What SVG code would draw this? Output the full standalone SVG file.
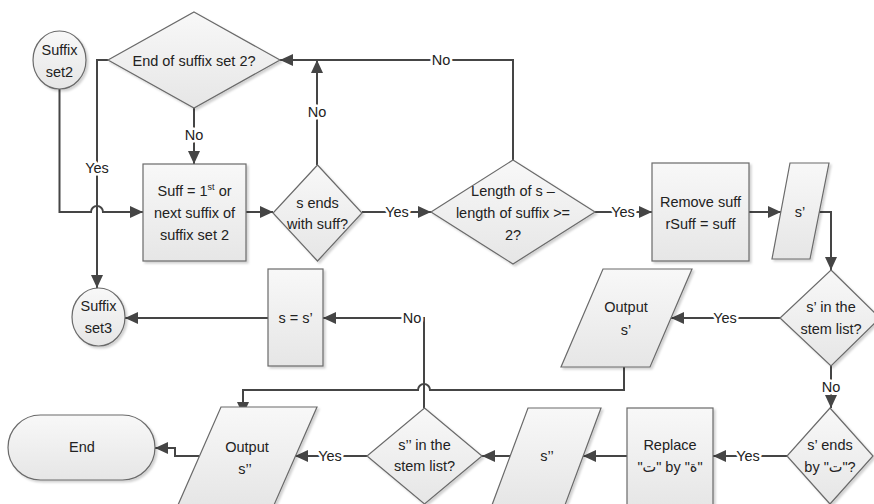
<svg xmlns="http://www.w3.org/2000/svg" width="874" height="504" viewBox="0 0 874 504">
<defs>
<linearGradient id="g" x1="0" y1="0" x2="0" y2="1">
<stop offset="0" stop-color="#f8f8f8"/>
<stop offset="1" stop-color="#e6e6e6"/>
</linearGradient>
<filter id="sh" x="-10%" y="-10%" width="130%" height="130%">
<feDropShadow dx="2" dy="2" stdDeviation="1" flood-color="#000" flood-opacity="0.18"/>
</filter>
<marker id="ar" markerUnits="userSpaceOnUse" markerWidth="14" markerHeight="12" refX="13" refY="6" orient="auto">
<path d="M0,0 L13,6 L0,12 Z" fill="#454545"/>
</marker>
</defs>
<style>
.s{fill:url(#g);stroke:#6a6a6a;stroke-width:1.2;filter:url(#sh)}
.t{font-family:"Liberation Sans","DejaVu Sans",sans-serif;font-size:14.5px;fill:#222;text-anchor:middle}
.c{fill:none;stroke:#454545;stroke-width:2}
.l{font-family:"Liberation Sans","DejaVu Sans",sans-serif;font-size:14.5px;fill:#222;text-anchor:middle;stroke:#fff;stroke-width:5;paint-order:stroke;stroke-linejoin:round}
</style>
<rect width="874" height="504" fill="#fff"/>

<g id="connectors">
<path class="c" d="M59.5,89 V212 H91 A6,6 0 0 1 103,212 H143" marker-end="url(#ar)"/>
<path class="c" d="M108,60 H97 V288" marker-end="url(#ar)"/>
<path class="c" d="M194,108 V164" marker-end="url(#ar)"/>
<path class="c" d="M246,212 H273" marker-end="url(#ar)"/>
<path class="c" d="M317,165 V60" marker-end="url(#ar)"/>
<path class="c" d="M513,160 V60 H280" marker-end="url(#ar)"/>
<path class="c" d="M362,212 H431" marker-end="url(#ar)"/>
<path class="c" d="M595,212 H652" marker-end="url(#ar)"/>
<path class="c" d="M749,212 H781" marker-end="url(#ar)"/>
<path class="c" d="M819,212 H831 V270" marker-end="url(#ar)"/>
<path class="c" d="M780,318 H671" marker-end="url(#ar)"/>
<path class="c" d="M831,366 V408" marker-end="url(#ar)"/>
<path class="c" d="M787,456 H713" marker-end="url(#ar)"/>
<path class="c" d="M627,456 H583" marker-end="url(#ar)"/>
<path class="c" d="M510,456 H482" marker-end="url(#ar)"/>
<path class="c" d="M367,456 H295" marker-end="url(#ar)"/>
<path class="c" d="M199,456 H175 V448 H155" marker-end="url(#ar)"/>
<path class="c" d="M624,367 V390 H430 A6,6 0 0 0 418,390 H243 V415" marker-end="url(#ar)"/>
<path class="c" d="M424,408 V318 H323" marker-end="url(#ar)"/>
<path class="c" d="M268,318 H125" marker-end="url(#ar)"/>
<text class="l" x="97" y="173">Yes</text>
<text class="l" x="194" y="140">No</text>
<text class="l" x="317" y="117">No</text>
<text class="l" x="441" y="65">No</text>
<text class="l" x="397" y="217">Yes</text>
<text class="l" x="623" y="217">Yes</text>
<text class="l" x="725" y="323">Yes</text>
<text class="l" x="831" y="392">No</text>
<text class="l" x="748" y="461">Yes</text>
<text class="l" x="330" y="461">Yes</text>
<text class="l" x="412" y="323">No</text>
</g>

<g id="suffix-set2">
<ellipse class="s" cx="59.5" cy="60" rx="26.5" ry="29"/>
<text class="t" x="59.5" y="55">Suffix</text>
<text class="t" x="59.5" y="77">set2</text>
</g>
<g id="end-suffix-set2">
<polygon class="s" points="194,12 280,60 194,108 108,60"/>
<text class="t" x="194" y="66">End of suffix set 2?</text>
</g>
<g id="next-suffix">
<rect class="s" x="143" y="164" width="103" height="97"/>
<text class="t" x="194.5" y="196">Suff = 1<tspan font-size="9" dy="-6">st</tspan><tspan dy="6">  or</tspan></text>
<text class="t" x="194.5" y="218">next suffix of</text>
<text class="t" x="194.5" y="240">suffix set 2</text>
</g>
<g id="s-ends-suff">
<polygon class="s" points="317.5,165 362,213 317.5,261 273,213"/>
<text class="t" x="317.5" y="208">s ends</text>
<text class="t" x="317.5" y="229">with suff?</text>
</g>
<g id="length-check">
<polygon class="s" points="513,160 595,212 513,264 431,212"/>
<text class="t" x="513" y="196">Length of s –</text>
<text class="t" x="513" y="218">length of suffix &gt;=</text>
<text class="t" x="513" y="240">2?</text>
</g>
<g id="remove-suff">
<rect class="s" x="652" y="163" width="97" height="98"/>
<text class="t" x="700.5" y="207">Remove suff</text>
<text class="t" x="700.5" y="229">rSuff = suff</text>
</g>
<g id="s-prime">
<polygon class="s" points="790,163 829,163 810,259 772,259"/>
<text class="t" x="800" y="217">s’</text>
</g>
<g id="s-prime-stem">
<polygon class="s" points="831,270 880,318 831,366 780,318"/>
<text class="t" x="831" y="312">s’ in the</text>
<text class="t" x="831" y="334">stem list?</text>
</g>
<g id="output-s-prime">
<polygon class="s" points="603,269 692,269 650,367 561,367"/>
<text class="t" x="626" y="312">Output</text>
<text class="t" x="626" y="335">s’</text>
</g>
<g id="s-eq-s-prime">
<rect class="s" x="268" y="269" width="55" height="97"/>
<text class="t" x="295.5" y="323">s = s’</text>
</g>
<g id="suffix-set3">
<ellipse class="s" cx="98.5" cy="317" rx="26.5" ry="29"/>
<text class="t" x="98.5" y="311">Suffix</text>
<text class="t" x="98.5" y="333">set3</text>
</g>
<g id="end">
<rect class="s" x="8" y="415" width="147" height="65" rx="32.5" ry="32.5"/>
<text class="t" x="82" y="452">End</text>
</g>
<g id="s-prime-ends">
<polygon class="s" points="830,408 873,456 830,504 787,456"/>
<text class="t" x="830" y="450">s’ ends</text>
<text class="t" x="830" y="472">by "ت"?</text>
</g>
<g id="replace">
<rect class="s" x="627" y="408" width="86" height="98"/>
<text class="t" x="670" y="450">Replace</text>
<text class="t" x="670" y="472">"ت" by "ة"</text>
</g>
<g id="s-double-prime">
<polygon class="s" points="528,408 601,408 565,505 492,505"/>
<text class="t" x="547" y="461">s’’</text>
</g>
<g id="s-double-prime-stem">
<polygon class="s" points="424.5,408 482,456 424.5,504 367,456"/>
<text class="t" x="424.5" y="450">s’’ in the</text>
<text class="t" x="424.5" y="471">stem list?</text>
</g>
<g id="output-s-double-prime">
<polygon class="s" points="221,407 317,407 274,505 178,505"/>
<text class="t" x="247" y="452">Output</text>
<text class="t" x="245" y="474">s’’</text>
</g>
</svg>
